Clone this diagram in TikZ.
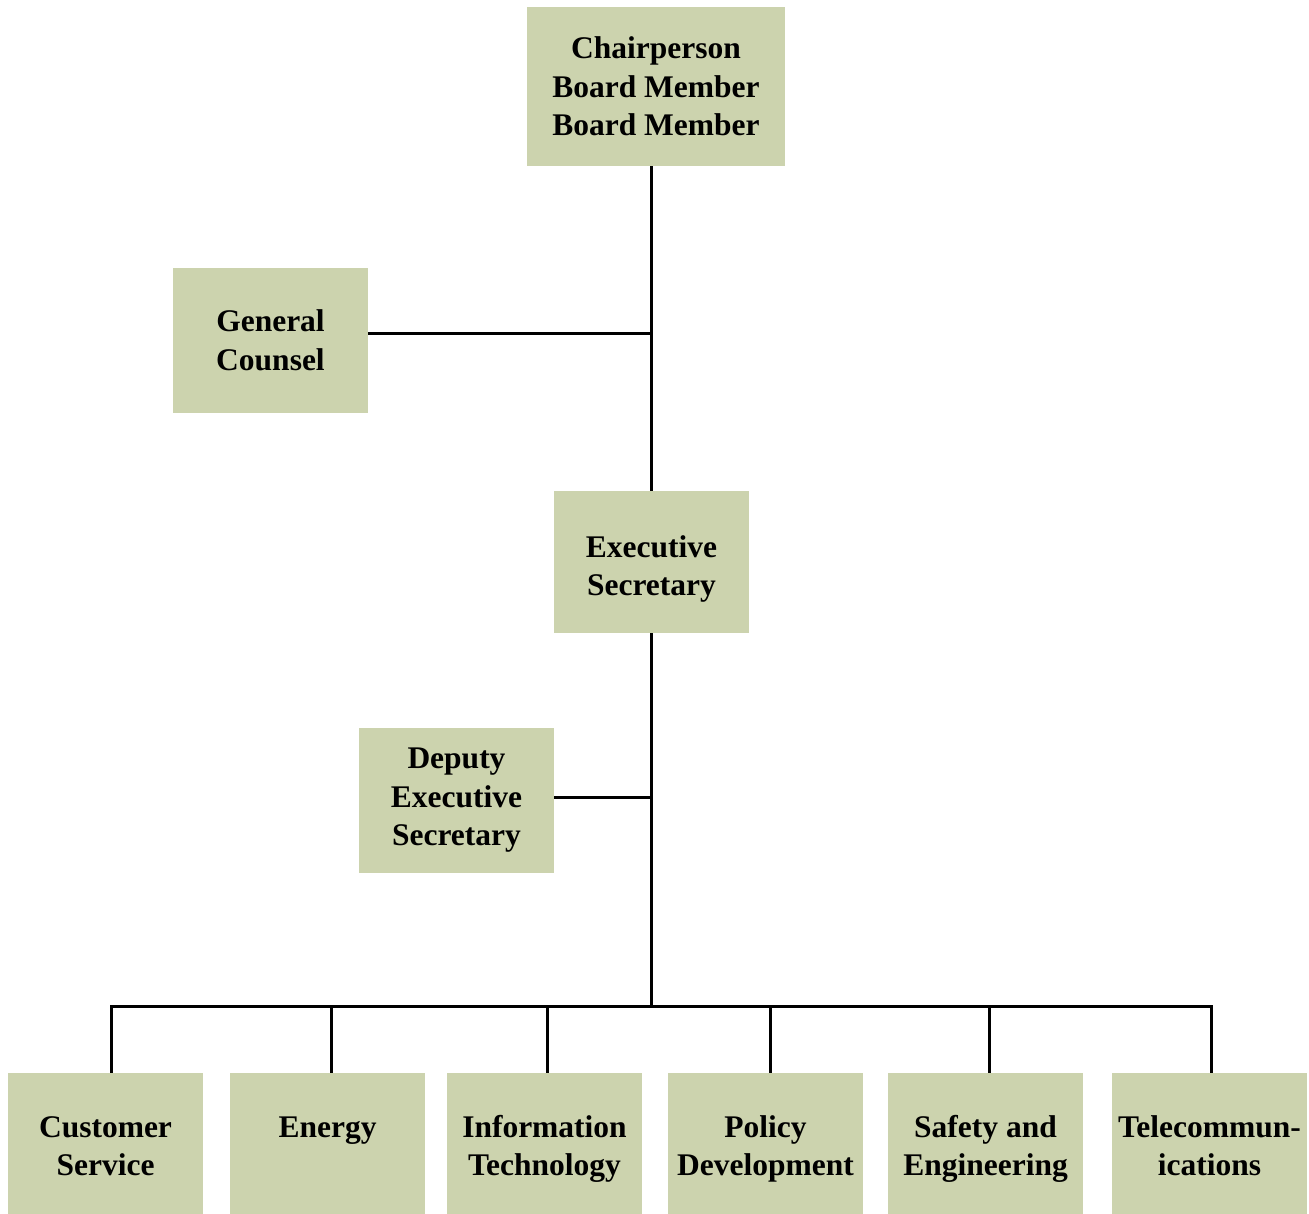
\documentclass[tikz,border=0pt]{standalone}
\usepackage{fontspec}
\setmainfont{Liberation Serif}
\definecolor{boxfill}{RGB}{204,211,174}
\begin{document}
\begin{tikzpicture}[x=1pt,y=-1pt,
  box/.style={fill=boxfill, draw=none, inner sep=0pt, align=center,
    font=\bfseries\fontsize{31.5}{38.5}\selectfont},
  label text/.style={inner sep=0pt, align=center, anchor=base,
    font=\bfseries\fontsize{31.5}{38.5}\selectfont},
  conn/.style={line width=3pt, black}]
\useasboundingbox (0,0) rectangle (1309,1214);

\node[box, minimum width=258, minimum height=159] (chair) at (656,86.5)
  {Chairperson\\Board Member\\Board Member};
\node[box, minimum width=195, minimum height=145] (gc) at (270.5,340.5)
  {General\\Counsel};
\node[box, minimum width=195, minimum height=142] (exec) at (651.5,562)
  {\rule{0pt}{36pt}Executive\\Secretary};
\node[box, minimum width=195, minimum height=145] (dep) at (456.5,800.5)
  {Deputy\\Executive\\Secretary};

\foreach \name/\cx in {cs/105.5, en/327.5, it/544.5, pd/765.5, se/985.5, tc/1209.5}{
  \node[box, minimum width=195, minimum height=141] (\name) at (\cx,1143.5) {};
}
% multi-line text nodes: base anchor sits on the last line's baseline
\node[label text] (cst) at (105.5,1175.5) {Customer\\Service};
\node[label text] (ent) at (327.5,1137) {Energy};
\node[label text] (itt) at (544.5,1175.5) {Information\\Technology};
\node[label text] (pdt) at (765.5,1175.5) {Policy\\Development};
\node[label text] (set) at (985.5,1175.5) {Safety and\\Engineering};
\node[label text] (tct) at (1209.5,1175.5) {Telecommun-\\ications};

\coordinate (spine) at (651,0);
\coordinate (gcj) at (651,334);
\coordinate (depj) at (651,797);
\coordinate (busC) at (651,1006);
\coordinate (d1) at (111,1006);
\coordinate (d2) at (331,1006);
\coordinate (d3) at (547,1006);
\coordinate (d4) at (770,1006);
\coordinate (d5) at (989,1006);
\coordinate (d6) at (1211,1006);

\draw[conn] (spine |- chair.south) -- (spine |- exec.north);
\draw[conn] (gc.east |- gcj) -- (gcj);
\draw[conn] (spine |- exec.south) -- (busC);
\draw[conn] (dep.east |- depj) -- (depj);
\draw[conn] (d1 |- cs.north) -- (d1) -- (d6) -- (d6 |- tc.north);
\draw[conn] (d2) -- (d2 |- en.north);
\draw[conn] (d3) -- (d3 |- it.north);
\draw[conn] (d4) -- (d4 |- pd.north);
\draw[conn] (d5) -- (d5 |- se.north);
\end{tikzpicture}
\end{document}
